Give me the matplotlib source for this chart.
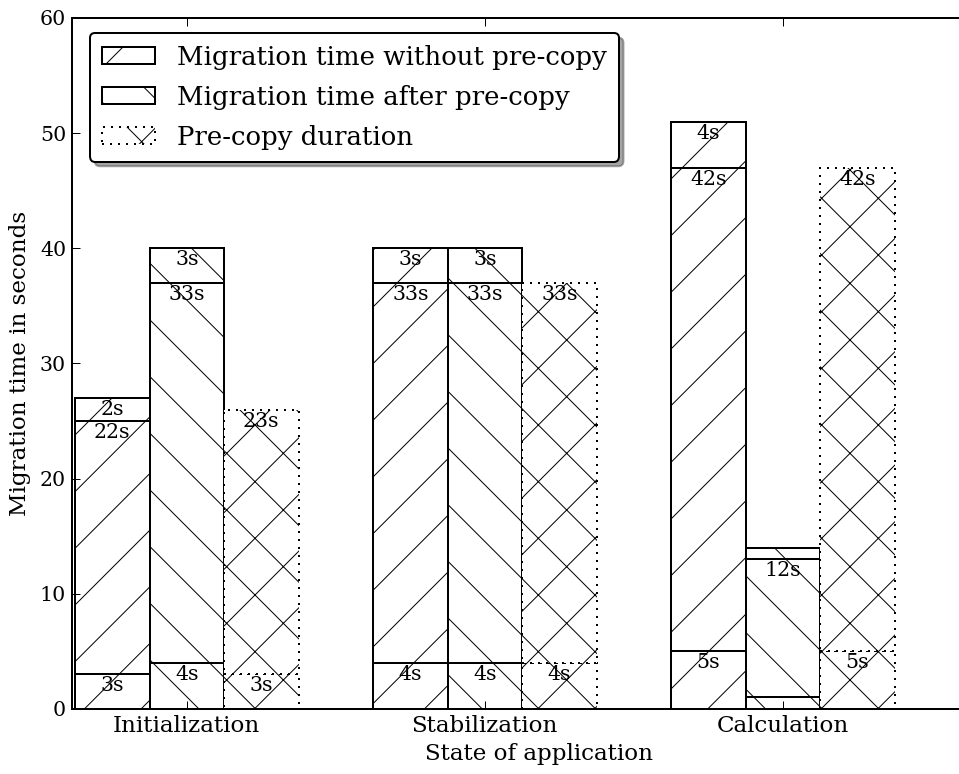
import numpy as np
import matplotlib
matplotlib.use('Agg')
import matplotlib.pyplot as plt

# data
states = ['Initialization', 'Stabilization', 'Calculation']
without_precopy = [[3, 22, 2], [4, 33, 3], [5, 42, 4]]
after_precopy = [[4, 33, 3], [4, 33, 3], [1, 12, 1]]
precopy_duration = [[3, 23], [4, 33], [5, 42]]

series_names = ['Migration time without pre-copy',
                'Migration time after pre-copy',
                'Pre-copy duration']

# dpi picked so the hatch spacing comes out like the reference
DPI = 170


def px(v):
    # pixels -> points
    return v * 72.0 / DPI


plt.rcParams['font.family'] = ['DejaVu Serif']
plt.rcParams['hatch.linewidth'] = px(1.0)
plt.rcParams['hatch.color'] = 'black'

fig = plt.figure(figsize=(959 / DPI, 774 / DPI), dpi=DPI)
ax = fig.add_axes([0.0751, 0.084, 0.9742, 0.8928])

fs_num = px(20.5)
fs_txt = px(23)
lw = px(2)

hatches = ['/', '\\', 'x']
series = [without_precopy, after_precopy, precopy_duration]

handles = []
for b, (vals, hatch) in enumerate(zip(series, hatches)):
    dotted = (b == 2)
    for g, segs in enumerate(vals):
        x = g * 4 + b
        bottom = 0
        for h in segs:
            bar = ax.bar(x, h, width=1.0, bottom=bottom, color='white',
                         edgecolor='black', hatch=hatch, linewidth=lw,
                         linestyle=(0, (1, 3)) if dotted else '-')
            if h >= 2:
                ax.text(x, bottom + h - 1, '%ds' % h, ha='center',
                        va='center', fontsize=fs_num)
            bottom += h
    handles.append(bar[0])

ax.set_xlim(-0.54, 12)
ax.set_ylim(0, 60)
ax.set_yticks(np.arange(0, 61, 10))
ax.set_xticks([g * 4 + 1 for g in range(len(states))])
ax.set_xticklabels(states, fontsize=fs_txt)
ax.tick_params(direction='in', top=True, right=True, length=px(8),
               width=px(1), pad=px(6))
ax.tick_params(axis='y', labelsize=fs_num)
for sp in ax.spines.values():
    sp.set_linewidth(lw)

ax.set_xlabel('State of application', fontsize=fs_txt, labelpad=px(6))
ax.set_ylabel('Migration time in seconds', fontsize=fs_txt, labelpad=px(9))

leg = ax.legend(handles, series_names, loc='upper left',
                bbox_to_anchor=(0.0193, 0.9783), borderaxespad=0,
                fontsize=px(26), fancybox=True, shadow=True, framealpha=1,
                handlelength=2.05, handleheight=0.6, labelspacing=0.58,
                handletextpad=0.85, borderpad=0.45)
leg.get_frame().set_edgecolor('black')
leg.get_frame().set_linewidth(lw)

fig.savefig('out.png', dpi=DPI)
